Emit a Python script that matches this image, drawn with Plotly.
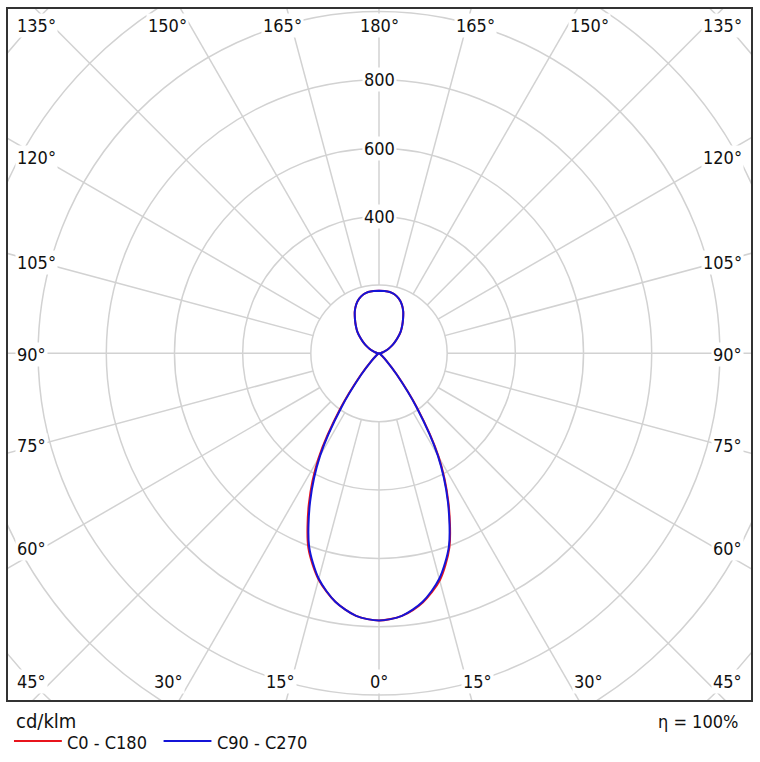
import numpy as np
import plotly.graph_objects as go

# ---------------- data (cd/klm) ----------------
gamma = list(range(0, 185, 5))  # 0..180 deg

c0 = [782, 771, 740, 688, 604, 482, 350, 195, 82, 31, 12, 6, 4, 2, 1, 1, 0, 0, 0,
      2, 6, 12, 20, 30, 42, 56, 72, 90, 106, 123, 142, 158, 170, 178, 182, 183, 183]
c180 = [782, 771, 738, 685, 606, 487, 355, 199, 84, 32, 12, 6, 4, 2, 1, 1, 0, 0, 0,
        2, 6, 12, 20, 30, 42, 56, 72, 90, 106, 123, 142, 158, 170, 178, 182, 183, 183]
c90 = [782, 771, 738, 683, 600, 478, 345, 190, 80, 30, 12, 6, 4, 2, 1, 1, 0, 0, 0,
       2, 6, 12, 20, 30, 42, 56, 72, 90, 106, 123, 142, 158, 170, 178, 182, 183, 183]
c270 = [782, 771, 738, 683, 600, 478, 345, 190, 80, 30, 12, 6, 4, 2, 1, 1, 0, 0, 0,
        2, 6, 12, 20, 30, 42, 56, 72, 90, 106, 123, 142, 158, 170, 178, 182, 183, 183]

grid_radii = [200, 400, 600, 800, 1000, 1200, 1400]
radius_labels = [400, 600, 800]
grid_angles = list(range(0, 360, 15))

top_labels = ["135°", "150°", "165°", "180°", "165°", "150°", "135°"]
side_labels = ["120°", "105°", "90°", "75°", "60°", "45°"]
bottom_labels = ["30°", "15°", "0°", "15°", "30°"]

series_names = ["C0 - C180", "C90 - C270"]
unit_text = "cd/klm"
eta_text = "η = 100%"

# ---------------- layout geometry ----------------
W, H = 760, 762
PL, PT = 8, 9
PW, PH = 745, 691
CX, CY = 380, 353.3
K = 0.3418  # px per cd/klm

xr = [-(CX - PL) / K, (PL + PW - CX) / K]
yr = [-(PT + PH - CY) / K, (CY - PT) / K]

def px(x):
    return (x - PL) / PW

def py(y):
    return (PT + PH - y) / PH

FONT = "DejaVu Sans Condensed, Liberation Sans, sans-serif"
GRID = "#d2d2d2"

fig = go.Figure()

# closed curves from two half-planes
g = np.radians(gamma)

def curve(right, left):
    r = np.array(right, float)
    l = np.array(left, float)
    x = np.concatenate([r * np.sin(g), (-l * np.sin(g))[::-1]])
    y = np.concatenate([-r * np.cos(g), (-l * np.cos(g))[::-1]])
    return x, y

x1, y1 = curve(c0, c180)
x2, y2 = curve(c90, c270)
fig.add_trace(go.Scatter(x=x1, y=y1, mode="lines", name=series_names[0],
                         line=dict(color="#e8141c", width=2, shape="spline", smoothing=0.8),
                         showlegend=False, hoverinfo="skip"))
fig.add_trace(go.Scatter(x=x2, y=y2, mode="lines", name=series_names[1],
                         line=dict(color="#1414d8", width=2, shape="spline", smoothing=0.8),
                         showlegend=False, hoverinfo="skip"))

shapes = []
for r in grid_radii:
    shapes.append(dict(type="circle", xref="x", yref="y", x0=-r, y0=-r, x1=r, y1=r,
                       line=dict(color=GRID, width=1.5), layer="below"))
r0, r1 = grid_radii[0], 2000
for a in grid_angles:
    t = np.radians(a)
    shapes.append(dict(type="line", xref="x", yref="y",
                       x0=r0 * np.sin(t), y0=-r0 * np.cos(t),
                       x1=r1 * np.sin(t), y1=-r1 * np.cos(t),
                       line=dict(color=GRID, width=1.5), layer="below"))

# legend lines
shapes.append(dict(type="line", xref="paper", yref="paper", x0=px(14), x1=px(62),
                   y0=py(741), y1=py(741), line=dict(color="#e8141c", width=2)))
shapes.append(dict(type="line", xref="paper", yref="paper", x0=px(164), x1=px(212),
                   y0=py(741), y1=py(741), line=dict(color="#1414d8", width=2)))

ann = []
def label(text, x, y, anchor="center", size=18, bg="white"):
    ann.append(dict(text=text, x=px(x), y=py(y), xref="paper", yref="paper",
                    xanchor=anchor, yanchor="middle", showarrow=False,
                    font=dict(family=FONT, size=size, color="#111"),
                    bgcolor=bg, borderpad=1))

top_x = [15.5, 168, 283.5, 380, 476.5, 591.5, 745.5]
top_anchor = ["left", "center", "center", "center", "center", "center", "right"]
for t, x, a in zip(top_labels, top_x, top_anchor):
    label(t, x, 25, a)
side_y = [158, 262, 354, 445, 548, 681]
for t, y in zip(side_labels, side_y):
    label(t, 15.5, y, "left")
    label(t, 745.5, y, "right")
bottom_x = [169, 281, 380, 479, 590]
for t, x in zip(bottom_labels, bottom_x):
    label(t, x, 681)

for r in radius_labels:
    ann.append(dict(text=str(r), x=0, y=r, xref="x", yref="y", showarrow=False,
                    xanchor="center", yanchor="middle",
                    font=dict(family=FONT, size=18, color="#111"),
                    bgcolor="white", borderpad=1))

label(unit_text, 14.5, 721, "left", size=20, bg=None)
label(series_names[0], 65, 742, "left", bg=None)
label(series_names[1], 215.5, 742, "left", bg=None)
label(eta_text, 742, 721, "right", bg=None)

fig.update_layout(
    width=W, height=H,
    margin=dict(l=PL, r=W - PL - PW, t=PT, b=H - PT - PH, pad=0),
    paper_bgcolor="white", plot_bgcolor="white",
    shapes=shapes, annotations=ann, showlegend=False,
    xaxis=dict(range=xr, showgrid=False, zeroline=False, showticklabels=False,
               ticks="", showline=True, mirror=True, linecolor="#333", linewidth=1.5,
               fixedrange=True),
    yaxis=dict(range=yr, showgrid=False, zeroline=False, showticklabels=False,
               ticks="", showline=True, mirror=True, linecolor="#333", linewidth=1.5,
               fixedrange=True),
)

fig.write_html("out.html")
